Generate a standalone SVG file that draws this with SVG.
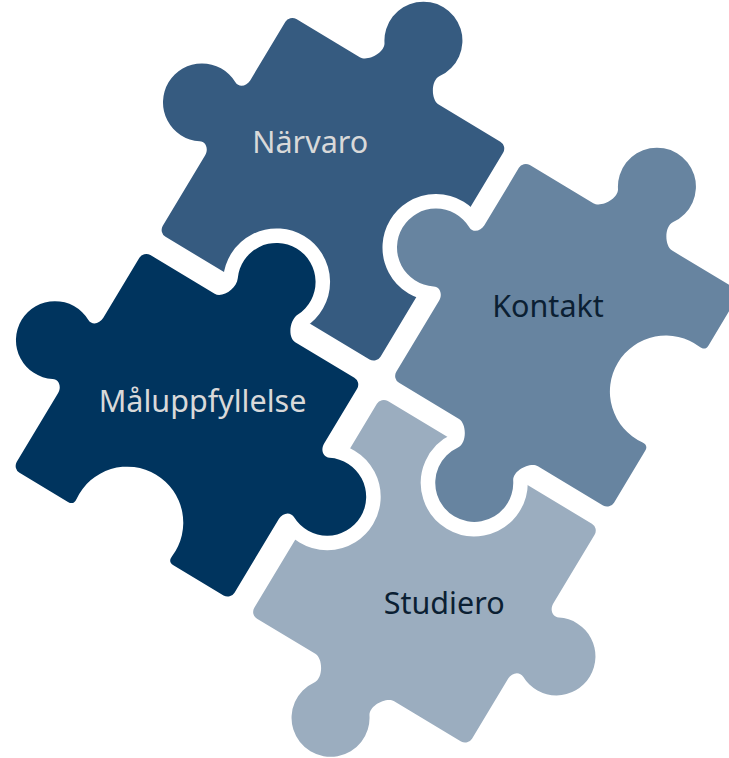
<svg xmlns="http://www.w3.org/2000/svg" width="729" height="758" viewBox="0 0 729 758">
<style>
.pc{stroke:#ffffff;stroke-width:29;stroke-linejoin:round;paint-order:stroke fill}
.lbl{font-family:"Noto Sans","Open Sans","DejaVu Sans",sans-serif;font-size:30.5px;text-anchor:middle}
.light{fill:#d9d9d9}
.dark{fill:#0b1f33}
</style>
<rect width="729" height="758" fill="#ffffff"/>
<g id="narvaro">
<path class="pc" fill="#365b80" transform="translate(289.5,15) rotate(31)" d="M8,0 L82,0 C91,0 101.4,-16.7 95.8,-25 A39,39 0 1 1 160.2,-25 C154.6,-16.7 165,0 174,0 L246,0 A8,8 0 0 1 254,8 L254,246 A8,8 0 0 1 246,254 L8,254 A8,8 0 0 1 0,246 L0,164 C0,157 -5.8,151.4 -12,154.6 A39,39 0 1 1 -12,85.4 C-5.8,88.6 0,83 0,76 L0,8 A8,8 0 0 1 8,0 Z"/>
<text class="lbl light" x="310.3" y="152.7">Närvaro</text>
</g>
<g id="studiero">
<path class="pc" fill="#9badbf" transform="translate(381,397) rotate(31)" d="M8,0 L246,0 A8,8 0 0 1 254,8 L254,88 C254,95 259.8,100.6 266,97.4 A39,39 0 1 1 266,166.6 C259.8,163.4 254,169 254,176 L254,246 A8,8 0 0 1 246,254 L168,254 C159,254 148.6,270.7 154.2,279 A39,39 0 1 1 89.8,279 C95.4,270.7 85,254 76,254 L8,254 A8,8 0 0 1 0,246 L0,8 A8,8 0 0 1 8,0 Z"/>
<text class="lbl dark" x="444.2" y="614">Studiero</text>
</g>
<g id="kontakt">
<path class="pc" fill="#6784a0" transform="translate(523,161) rotate(31)" d="M8,0 L82,0 C91,0 101.4,-16.7 95.8,-25 A39,39 0 1 1 160.2,-25 C154.6,-16.7 165,0 174,0 L246,0 A8,8 0 0 1 254,8 L254,62.5 C254,67.5 251,68.7 247,68.3 A56,56 0 1 0 247,179.7 C251,179.3 254,180.5 254,185.5 L254,246 A8,8 0 0 1 246,254 L170,254 C161,254 150.6,270.7 156.2,279 A39,39 0 1 1 91.8,279 C97.4,270.7 87,254 78,254 L8,254 A8,8 0 0 1 0,246 L0,163 C0,156 -5.8,150.4 -12,153.6 A39,39 0 1 1 -12,84.4 C-5.8,87.6 0,82 0,75 L0,8 A8,8 0 0 1 8,0 Z"/>
<text class="lbl dark" x="548" y="316.7">Kontakt</text>
</g>
<g id="maluppfyllelse">
<path class="pc" fill="#00345e" transform="translate(143.5,251) rotate(31)" d="M8,0 L83,0 C92,0 99.3,-16 94.9,-25 A39,39 0 1 1 165.1,-25 C160.7,-16 168,0 177,0 L246,0 A8,8 0 0 1 254,8 L254,72 C254,79 259.8,84.6 266,81.4 A39,39 0 1 1 266,150.6 C259.8,147.4 254,153 254,160 L254,246 A8,8 0 0 1 246,254 L187.5,254 C182.5,254 181.3,251 181.7,247 A56,56 0 1 0 70.3,247 C70.7,251 69.5,254 64.5,254 L8,254 A8,8 0 0 1 0,246 L0,166 C0,159 -5.8,153.4 -12,156.6 A39,39 0 1 1 -12,87.4 C-5.8,90.6 0,85 0,78 L0,8 A8,8 0 0 1 8,0 Z"/>
<text class="lbl light" x="202.5" y="411.7">Måluppfyllelse</text>
</g>
<g id="connectors"/>
</svg>
